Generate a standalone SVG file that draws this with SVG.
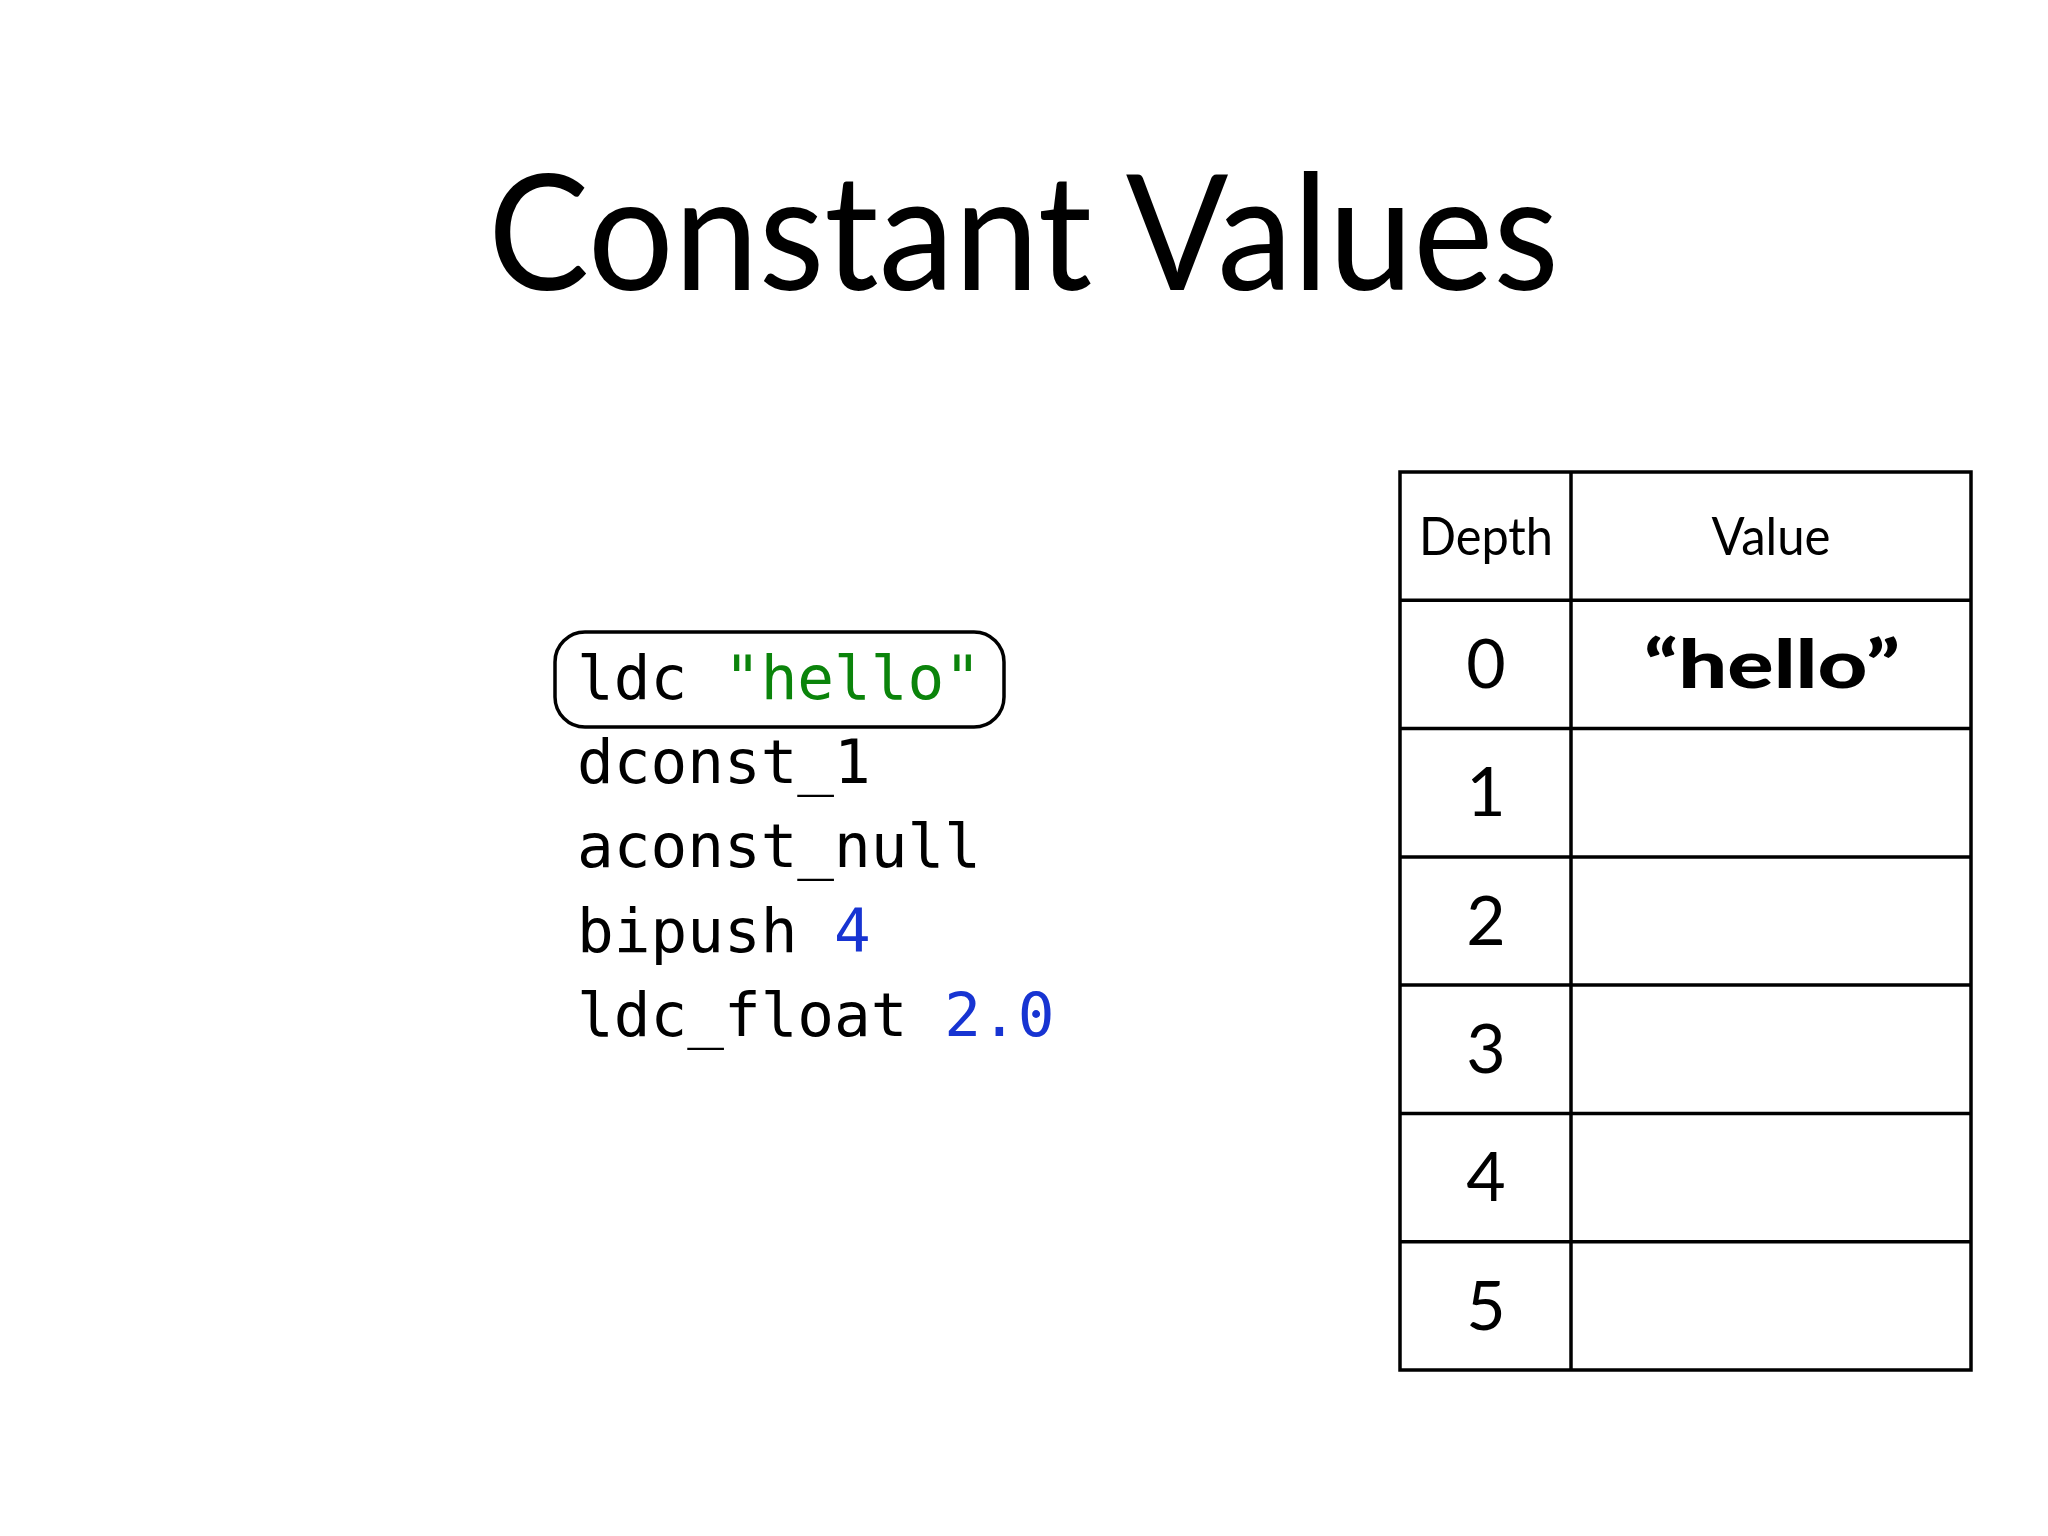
<svg xmlns="http://www.w3.org/2000/svg" width="2048" height="1536" viewBox="0 0 2048 1536">
<style>
.title{font-family:"Lato","Open Sans","Liberation Sans",sans-serif;font-size:162px;fill:#000}
.code{font-family:"DejaVu Sans Mono","Liberation Mono",monospace;font-size:61px;fill:#000}
.str{fill:#0b840b}
.num{fill:#1734d2}
.hdr{font-family:"Lato","Open Sans","Liberation Sans",sans-serif;font-size:52px;fill:#000;text-anchor:middle}
.dig{font-family:"Lato","Open Sans","Liberation Sans",sans-serif;font-size:68px;fill:#000;text-anchor:middle}
.val{font-family:"Lato","Open Sans","Liberation Sans",sans-serif;font-size:66px;font-weight:900;fill:#000;text-anchor:middle}
.grid{stroke:#000;stroke-width:3.5;fill:none}
</style>
<rect width="2048" height="1536" fill="#fff"/>
<g id="title">
<text class="title" x="488" y="290" textLength="1071" lengthAdjust="spacingAndGlyphs">Constant Values</text>
</g>
<g id="code">
<rect x="555" y="632" width="449" height="95" rx="30" ry="30" fill="none" stroke="#000" stroke-width="3.5"/>
<text class="code" x="577" y="699">ldc <tspan class="str">"hello"</tspan></text>
<text class="code" x="577" y="783">dconst_1</text>
<text class="code" x="577" y="867">aconst_null</text>
<text class="code" x="577" y="952">bipush <tspan class="num">4</tspan></text>
<text class="code" x="577" y="1036">ldc_float <tspan class="num">2.0</tspan></text>
</g>
<g id="stack">
<rect class="grid" x="1400" y="472" width="571" height="898"/>
<line class="grid" x1="1571" y1="472" x2="1571" y2="1370"/>
<line class="grid" x1="1400" y1="600.3" x2="1971" y2="600.3"/>
<line class="grid" x1="1400" y1="728.6" x2="1971" y2="728.6"/>
<line class="grid" x1="1400" y1="856.9" x2="1971" y2="856.9"/>
<line class="grid" x1="1400" y1="985.1" x2="1971" y2="985.1"/>
<line class="grid" x1="1400" y1="1113.4" x2="1971" y2="1113.4"/>
<line class="grid" x1="1400" y1="1241.7" x2="1971" y2="1241.7"/>
<text class="hdr" x="1486" y="555" textLength="134" lengthAdjust="spacingAndGlyphs">Depth</text>
<text class="hdr" x="1771" y="555" textLength="119" lengthAdjust="spacingAndGlyphs">Value</text>
<text class="dig" x="1486" y="688">0</text>
<text class="val" x="1772" y="688" textLength="256" lengthAdjust="spacingAndGlyphs">“hello”</text>
<text class="dig" x="1486" y="816">1</text>
<text class="dig" x="1486" y="945">2</text>
<text class="dig" x="1486" y="1073">3</text>
<text class="dig" x="1486" y="1201">4</text>
<text class="dig" x="1486" y="1330">5</text>
</g>
</svg>
